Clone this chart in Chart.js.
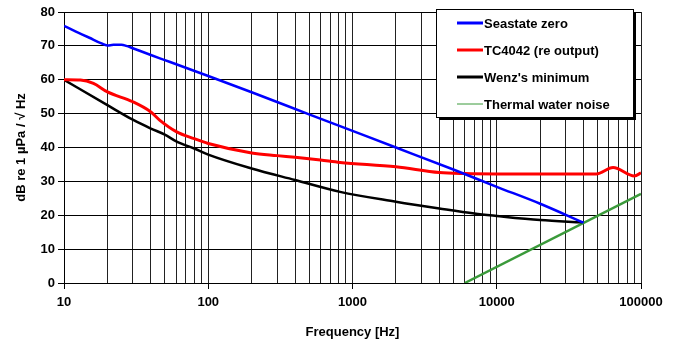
<!DOCTYPE html>
<html lang="en">
<head>
    <meta charset="UTF-8">
    <title>Noise spectra</title>
    <script src="https://cdn.jsdelivr.net/npm/chart.js"></script>
    <style>
        html, body { margin: 0; padding: 0; background: #fff; }
        #wrap { width: 681px; height: 344px; position: relative; }
    </style>
</head>
<body>
<div id="wrap"><canvas id="noiseChart"></canvas></div>
<script>
// series data (frequency in Hz, level in dB re 1 uPa/sqrt(Hz))
const seriesNames = ["Seastate zero", "TC4042 (re output)", "Wenz's minimum", "Thermal water noise"];

const seastateFreq = [10, 12, 15, 18, 20, 22, 25, 27, 30, 40, 50, 100, 200, 500, 1000, 2000, 5000, 10000, 20000, 40000];
const seastateDb   = [75.9, 74.3, 72.4, 70.8, 70.1, 70.3, 70.3, 70.0, 69.3, 67.3, 65.8, 61.1, 56.3, 49.8, 44.9, 40.0, 33.5, 28.4, 23.4, 17.8];

const tcFreq = [10, 13, 16, 20, 30, 40, 46, 60, 80, 100, 200, 300, 400, 600, 820, 2000, 4000, 6000, 10000, 20000, 49000, 64000, 90000, 100000];
const tcDb   = [60.0, 59.9, 58.9, 56.4, 53.5, 50.5, 48.1, 44.7, 42.6, 41.2, 38.4, 37.6, 37.1, 36.3, 35.6, 34.3, 32.6, 32.3, 32.2, 32.2, 32.2, 34.1, 31.6, 32.5];

const wenzFreq = [10, 20, 30, 40, 50, 60, 80, 100, 200, 400, 820, 2000, 4000, 7000, 10000, 20000, 39000];
const wenzDb   = [60.0, 52.5, 48.2, 45.6, 43.8, 41.8, 39.7, 37.9, 33.8, 30.4, 26.9, 24.0, 22.0, 20.5, 19.8, 18.6, 17.9];

const thermalFreq = [6000, 100000];
const thermalDb   = [0, 26.3];

const seriesColors = ["#0000ff", "#ff0000", "#000000", "#3a9a3a"];
const seriesWidths = [2.5, 3, 2.5, 2.5];

const yTicks = [0, 10, 20, 30, 40, 50, 60, 70, 80];

function pts(xs, ys) {
    return xs.map((x, i) => ({ x: x, y: ys[i] }));
}

const fontFamily = "'Liberation Sans', Arial, sans-serif";

// legend drawn as a boxed panel inside the plot, like the original
const boxLegend = {
    id: 'boxLegend',
    afterDraw(chart) {
        const ctx = chart.ctx;
        const x0 = 436, y0 = 9, w = 197, h = 108;
        ctx.save();
        ctx.fillStyle = '#000';
        ctx.fillRect(x0 + 3, y0 + 3, w, h);
        ctx.fillStyle = '#fff';
        ctx.fillRect(x0, y0, w, h);
        ctx.strokeStyle = '#000';
        ctx.lineWidth = 1;
        ctx.strokeRect(x0 + 0.5, y0 + 0.5, w, h);
        ctx.font = 'bold 13px ' + fontFamily;
        ctx.textBaseline = 'middle';
        chart.data.datasets.forEach((ds, i) => {
            const yy = y0 + 14 + i * 27;
            ctx.strokeStyle = ds.borderColor;
            ctx.lineWidth = i === 3 ? 1 : 3;
            ctx.beginPath();
            ctx.moveTo(457, yy);
            ctx.lineTo(483, yy);
            ctx.stroke();
            ctx.fillStyle = '#000';
            ctx.fillText(ds.label, 484, yy + 1);
        });
        ctx.restore();
    }
};

const ctx = document.getElementById('noiseChart').getContext('2d');
new Chart(ctx, {
    type: 'line',
    data: {
        datasets: [
            { label: seriesNames[0], data: pts(seastateFreq, seastateDb) },
            { label: seriesNames[1], data: pts(tcFreq, tcDb) },
            { label: seriesNames[2], data: pts(wenzFreq, wenzDb) },
            { label: seriesNames[3], data: pts(thermalFreq, thermalDb) }
        ].map((d, i) => Object.assign(d, {
            borderColor: seriesColors[i],
            backgroundColor: seriesColors[i],
            borderWidth: seriesWidths[i],
            pointRadius: 0,
            cubicInterpolationMode: 'monotone',
            fill: false
        }))
    },
    options: {
        responsive: true,
        maintainAspectRatio: false,
        animation: false,
        layout: { padding: { top: 12, right: 40, left: 0, bottom: 0 } },
        plugins: {
            legend: { display: false },
            tooltip: { enabled: false }
        },
        scales: {
            x: {
                type: 'logarithmic',
                min: 10,
                max: 100000,
                afterBuildTicks(scale) {
                    const t = [];
                    for (let k = 1; k <= 4; k++) {
                        for (let m = 1; m <= 9; m++) t.push({ value: m * Math.pow(10, k) });
                    }
                    t.push({ value: 100000 });
                    scale.ticks = t;
                },
                afterFit(scale) { scale.height = 61; },
                ticks: {
                    autoSkip: false,
                    maxRotation: 0,
                    padding: 6,
                    color: '#000',
                    font: { family: fontFamily, size: 13, weight: 'bold' },
                    callback(v) {
                        const l = Math.log10(v);
                        return Math.abs(l - Math.round(l)) < 1e-9 ? String(v) : '';
                    }
                },
                grid: {
                    color: '#222',
                    lineWidth: 1,
                    tickLength: 6,
                    tickColor(c) {
                        if (!c.tick) return 'rgba(0,0,0,0)';
                        const l = Math.log10(c.tick.value);
                        return Math.abs(l - Math.round(l)) < 1e-9 ? '#000' : 'rgba(0,0,0,0)';
                    }
                },
                border: { color: '#000', width: 1 },
                title: {
                    display: true,
                    text: 'Frequency [Hz]',
                    color: '#000',
                    font: { family: fontFamily, size: 13, weight: 'bold' },
                    padding: { top: 8 }
                }
            },
            y: {
                min: 0,
                max: 80,
                afterBuildTicks(scale) {
                    scale.ticks = yTicks.map(v => ({ value: v }));
                },
                afterFit(scale) { scale.width = 64; },
                ticks: {
                    padding: 3,
                    color: '#000',
                    font: { family: fontFamily, size: 13, weight: 'bold' }
                },
                grid: { color: '#000', lineWidth: 1, tickLength: 6, tickColor: '#000' },
                border: { color: '#000', width: 1 },
                title: {
                    display: true,
                    text: 'dB re 1 µPa / √ Hz',
                    color: '#000',
                    font: { family: fontFamily, size: 13, weight: 'bold' },
                    padding: { top: 14, bottom: 0 }
                }
            }
        }
    },
    plugins: [boxLegend]
});
</script>
</body>
</html>
